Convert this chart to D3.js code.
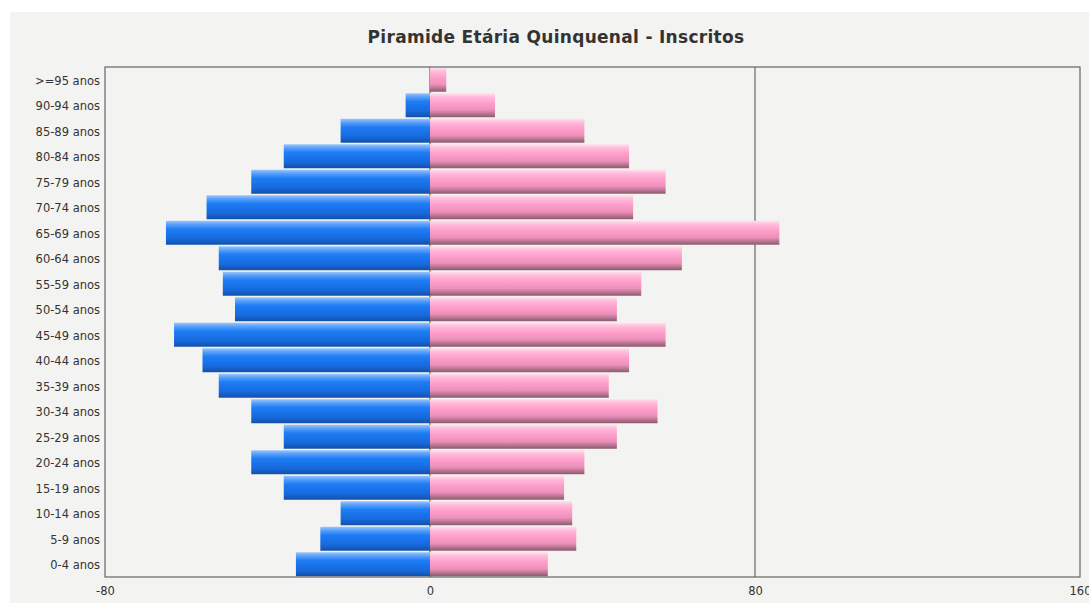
<!DOCTYPE html>
<html><head><meta charset="utf-8">
<script src="https://cdn.jsdelivr.net/npm/d3@7"></script>
<style>
html,body{margin:0;padding:0;background:#fff;}
svg{display:block;}
</style></head>
<body>
<svg id="chart" width="1089" height="603"></svg>
<script>
const categories = [">=95 anos","90-94 anos","85-89 anos","80-84 anos","75-79 anos","70-74 anos","65-69 anos","60-64 anos","55-59 anos","50-54 anos","45-49 anos","40-44 anos","35-39 anos","30-34 anos","25-29 anos","20-24 anos","15-19 anos","10-14 anos","5-9 anos","0-4 anos"];
const male   = [0, 6, 22, 36, 44, 55, 65, 52, 51, 48, 63, 56, 52, 44, 36, 44, 36, 22, 27, 33];
const female = [4, 16, 38, 49, 58, 50, 86, 62, 52, 46, 58, 49, 44, 56, 46, 38, 33, 35, 36, 29];
const xTicks = [-80, 0, 80, 160];
const title = "Piramide Etária Quinquenal - Inscritos";

const svg = d3.select("#chart");
const W = 1089, H = 603;
svg.append("rect").attr("x",10).attr("y",12).attr("width",W-10).attr("height",H-12).attr("fill","#f3f3f1");

const m = {left:105, right:1080, top:67, bottom:577};
const x = d3.scaleLinear().domain([-80,160]).range([m.left, m.right]);
const y = d3.scaleBand().domain(categories).range([m.top, m.bottom]).paddingInner(0.06).paddingOuter(0.03);

const defs = svg.append("defs");
function grad(id, stops){
  const g = defs.append("linearGradient").attr("id",id).attr("x1",0).attr("y1",0).attr("x2",0).attr("y2",1);
  stops.forEach(s=>g.append("stop").attr("offset",s[0]).attr("stop-color",s[1]));
}
grad("gBlue", [[0,"#9cc6fb"],[0.15,"#5aa0fb"],[0.35,"#1e7df5"],[0.75,"#1769de"],[1,"#1250a8"]]);
grad("gPink", [[0,"#ffe0ee"],[0.15,"#ffbcdb"],[0.4,"#ff9fcc"],[0.7,"#ec90b9"],[1,"#8a5a6c"]]);

// grid lines
svg.append("g").selectAll("line").data([0,80]).join("line")
  .attr("x1",d=>x(d)).attr("x2",d=>x(d)).attr("y1",m.top).attr("y2",m.bottom)
  .attr("stroke","#666").attr("stroke-width",1.2);

// bars
svg.append("g").selectAll("rect").data(categories).join("rect")
  .attr("x",(d,i)=>x(-male[i])).attr("y",d=>y(d))
  .attr("width",(d,i)=>x(0)-x(-male[i])).attr("height",y.bandwidth())
  .attr("fill","url(#gBlue)");
svg.append("g").selectAll("rect").data(categories).join("rect")
  .attr("x",x(0)).attr("y",d=>y(d))
  .attr("width",(d,i)=>x(female[i])-x(0)).attr("height",y.bandwidth())
  .attr("fill","url(#gPink)");

// frame
svg.append("rect").attr("x",m.left).attr("y",m.top).attr("width",m.right-m.left).attr("height",m.bottom-m.top)
  .attr("fill","none").attr("stroke","#666").attr("stroke-width",1.2);

// axes
const font = "Tahoma, 'DejaVu Sans', sans-serif";
const ax = svg.append("g").attr("transform",`translate(0,${m.bottom})`)
  .call(d3.axisBottom(x).tickValues(xTicks).tickSize(0).tickPadding(10).tickFormat(d=>String(d)));
ax.select(".domain").remove();
ax.selectAll("text").attr("font-family",font).attr("font-size",11.5).attr("fill","#333");

const ay = svg.append("g").attr("transform",`translate(${m.left},0)`)
  .call(d3.axisLeft(y).tickSize(0).tickPadding(5));
ay.select(".domain").remove();
ay.selectAll("text").attr("font-family",font).attr("font-size",11.5).attr("fill","#333").attr("dy","0.45em");

svg.append("text").attr("x",556).attr("y",43).attr("text-anchor","middle")
  .attr("font-family",font).attr("font-weight","bold").attr("font-size",17).attr("letter-spacing",0.3).attr("fill","#333")
  .text(title);
</script>
</body></html>
